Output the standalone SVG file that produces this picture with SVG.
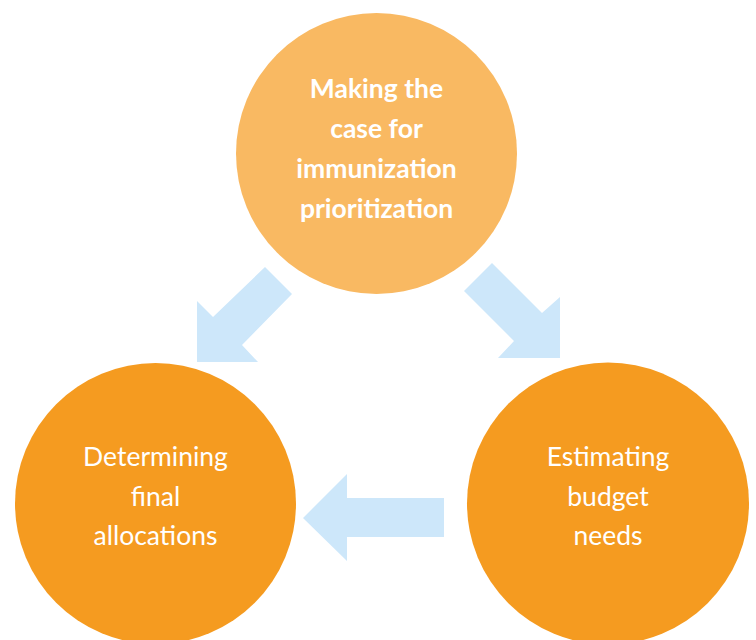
<svg xmlns="http://www.w3.org/2000/svg" width="756" height="640" viewBox="0 0 756 640">
<style>
.lbl{font-family:Lato,"Open Sans","Liberation Sans",sans-serif;font-size:26.5px;fill:#ffffff;text-anchor:middle}
.b{font-weight:bold}
.arr{fill:#CDE7FA}
</style>
<rect width="756" height="640" fill="#ffffff"/>
<g id="connectors">
<polygon class="arr" points="197,301 213,317 265,267 292,294 242,345 258,362 197,362"/>
<polygon class="arr" points="464,291 492,263 542,313 560,297 560,358 498,358 514,341"/>
<polygon class="arr" points="303,518 347,474 347,498 444,498 444,537 347,537 347,561"/>
</g>
<g id="node-top">
<circle cx="376.5" cy="153.5" r="140.5" fill="#F9B962"/>
<text class="lbl b" x="376.5" y="98">Making the</text>
<text class="lbl b" x="376.5" y="138">case for</text>
<text class="lbl b" x="376.5" y="178">immunization</text>
<text class="lbl b" x="376.5" y="218">prioritization</text>
</g>
<g id="node-left">
<circle cx="155.5" cy="503.5" r="140.5" fill="#F59B20"/>
<text class="lbl" x="155.5" y="466">Determining</text>
<text class="lbl" x="155.5" y="506">final</text>
<text class="lbl" x="155.5" y="545">allocations</text>
</g>
<g id="node-right">
<circle cx="608" cy="503.5" r="141" fill="#F59B20"/>
<text class="lbl" x="608" y="466">Estimating</text>
<text class="lbl" x="608" y="506">budget</text>
<text class="lbl" x="608" y="545">needs</text>
</g>
</svg>
